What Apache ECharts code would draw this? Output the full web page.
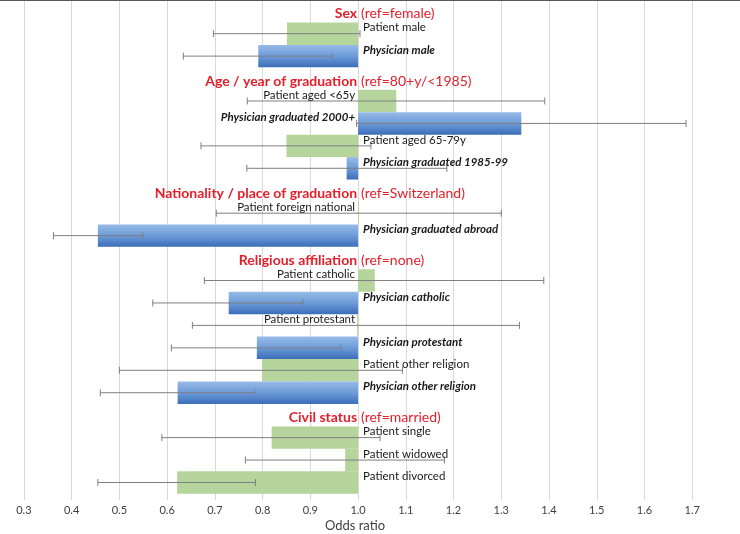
<!DOCTYPE html>
<html>
<head>
<meta charset="utf-8">
<script src="https://cdn.jsdelivr.net/npm/echarts@6/dist/echarts.min.js"></script>
<style>
html,body{margin:0;padding:0;background:#fff;}
#chart{width:740px;height:534px;}
</style>
</head>
<body>
<div id="chart"></div>
<script>
// ---- data ----
const sectionTitles = ['Sex', 'Age / year of graduation', 'Nationality / place of graduation', 'Religious affiliation', 'Civil status'];
const sectionRefs = ['(ref=female)', '(ref=80+y/<1985)', '(ref=Switzerland)', '(ref=none)', '(ref=married)'];
const sectionSizes = [2, 4, 2, 6, 3];
const labels = ['Patient male', 'Physician male',
  'Patient aged <65y', 'Physician graduated 2000+', 'Patient aged 65-79y', 'Physician graduated 1985-99',
  'Patient foreign national', 'Physician graduated abroad',
  'Patient catholic', 'Physician catholic', 'Patient protestant', 'Physician protestant', 'Patient other religion', 'Physician other religion',
  'Patient single', 'Patient widowed', 'Patient divorced'];
const oddsRatio = [0.851, 0.791, 1.080, 1.342, 0.850, 0.976, 1.001, 0.455, 1.035, 0.729, 0.998, 0.788, 0.799, 0.622, 0.819, 0.973, 0.621];
const ciLow = [0.697, 0.634, 0.768, 0.997, 0.671, 0.767, 0.703, 0.362, 0.678, 0.570, 0.653, 0.609, 0.500, 0.460, 0.589, 0.764, 0.455];
const ciHigh = [1.004, 0.946, 1.391, 1.687, 1.027, 1.186, 1.300, 0.549, 1.389, 0.885, 1.338, 0.964, 1.093, 0.783, 1.046, 1.181, 0.785];
const tickLabels = [0.3, 0.4, 0.5, 0.6, 0.7, 0.8, 0.9, 1.0, 1.1, 1.2, 1.3, 1.4, 1.5, 1.6, 1.7];
const refValue = 1.0;

// ---- build rows ----
const itemRows = [];   // [value, row, lo, hi, labelIndex]
const titleRows = [];  // [refValue, row, sectionIndex]
let row = 0, k = 0;
sectionSizes.forEach((n, s) => {
  titleRows.push([refValue, row, s]);
  row++;
  for (let j = 0; j < n; j++) {
    itemRows.push([oddsRatio[k], row, ciLow[k], ciHigh[k], k]);
    row++; k++;
  }
});
const nRows = row;

const FONT = 'Lato';
const RED = '#e2202b';
const blueGrad = new echarts.graphic.LinearGradient(0, 0, 0, 1, [
  {offset: 0, color: '#97bbe7'},
  {offset: 0.5, color: '#6d9bd8'},
  {offset: 1, color: '#3b6db9'}
]);

function isPhys(i) { return labels[i].indexOf('Physician') === 0; }

const chart = echarts.init(document.getElementById('chart'), null, {renderer: 'canvas'});
chart.setOption({
  backgroundColor: '#fff',
  animation: false,
  title: {
    text: 'Odds ratio', left: 355, top: 519, textAlign: 'center', padding: 0,
    textStyle: {fontFamily: FONT, fontSize: 13, fontWeight: 'normal', color: '#404040'}
  },
  grid: {left: -1, right: 0, top: 0, bottom: 34, containLabel: false},
  xAxis: {
    type: 'value', min: 0.25, max: 1.8,
    axisLine: {show: true, lineStyle: {color: '#595959', width: 2}},
    axisTick: {show: false, customValues: tickLabels},
    axisLabel: {customValues: tickLabels, color: '#404040', fontFamily: FONT, fontSize: 11, margin: 5,
      formatter: v => v.toFixed(1)},
    splitLine: {show: true, lineStyle: {color: '#d9d9d9', width: 1}}
  },
  yAxis: {
    type: 'value', inverse: true, min: 0, max: nRows + 0.28, show: false,
    splitLine: {show: false}
  },
  series: [
    {
      type: 'custom', name: 'bars', data: itemRows, z: 2,
      renderItem: (params, api) => {
        const v = api.value(0), r = api.value(1), li = api.value(4);
        const p0 = api.coord([refValue, r]);
        const p1 = api.coord([v, r + 1]);
        const x = Math.min(p0[0], p1[0]);
        const w = Math.max(Math.abs(p1[0] - p0[0]), 1);
        return {
          type: 'rect',
          shape: {x: x, y: p0[1], width: w, height: p1[1] - p0[1]},
          style: {fill: isPhys(li) ? blueGrad : '#b5d59d'}
        };
      }
    },
    {
      type: 'custom', name: 'ci', data: itemRows, z: 3,
      renderItem: (params, api) => {
        const r = api.value(1);
        const a = api.coord([api.value(2), r + 0.5]);
        const b = api.coord([api.value(3), r + 0.5]);
        const st = {stroke: '#7f7f7f', lineWidth: 1};
        const c = 3.5;
        return {
          type: 'group', children: [
            {type: 'line', shape: {x1: a[0], y1: a[1], x2: b[0], y2: b[1]}, style: st},
            {type: 'line', shape: {x1: a[0], y1: a[1] - c, x2: a[0], y2: a[1] + c}, style: st},
            {type: 'line', shape: {x1: b[0], y1: b[1] - c, x2: b[0], y2: b[1] + c}, style: st}
          ]
        };
      }
    },
    {
      type: 'custom', name: 'labels', data: itemRows, z: 4,
      renderItem: (params, api) => {
        const v = api.value(0), r = api.value(1), li = api.value(4);
        const p = api.coord([refValue, r + 0.5]);
        const left = v >= 0.99;
        const phys = isPhys(li);
        return {
          type: 'text',
          style: {
            x: left ? p[0] - 3 : p[0] + 5, y: p[1] - 6,
            text: labels[li], align: left ? 'right' : 'left', verticalAlign: 'middle',
            fontFamily: FONT, fontSize: 11.5,
            fontWeight: phys ? 'bold' : 'normal', fontStyle: phys ? 'italic' : 'normal',
            fill: '#1a1a1a'
          }
        };
      }
    },
    {
      type: 'custom', name: 'titles', data: titleRows, z: 4,
      renderItem: (params, api) => {
        const r = api.value(1), s = api.value(2);
        const p = api.coord([refValue, r + 0.5]);
        return {
          type: 'group', children: [
            {type: 'text', style: {x: p[0] - 1, y: p[1] + 2.5, text: sectionTitles[s], align: 'right', verticalAlign: 'middle',
              fontFamily: FONT, fontSize: 14, fontWeight: 'bold', fill: RED}},
            {type: 'text', style: {x: p[0] + 3, y: p[1] + 2.5, text: sectionRefs[s], align: 'left', verticalAlign: 'middle',
              fontFamily: FONT, fontSize: 14, fontWeight: 'normal', fill: RED}}
          ]
        };
      }
    }
  ]
});
</script>
</body>
</html>
